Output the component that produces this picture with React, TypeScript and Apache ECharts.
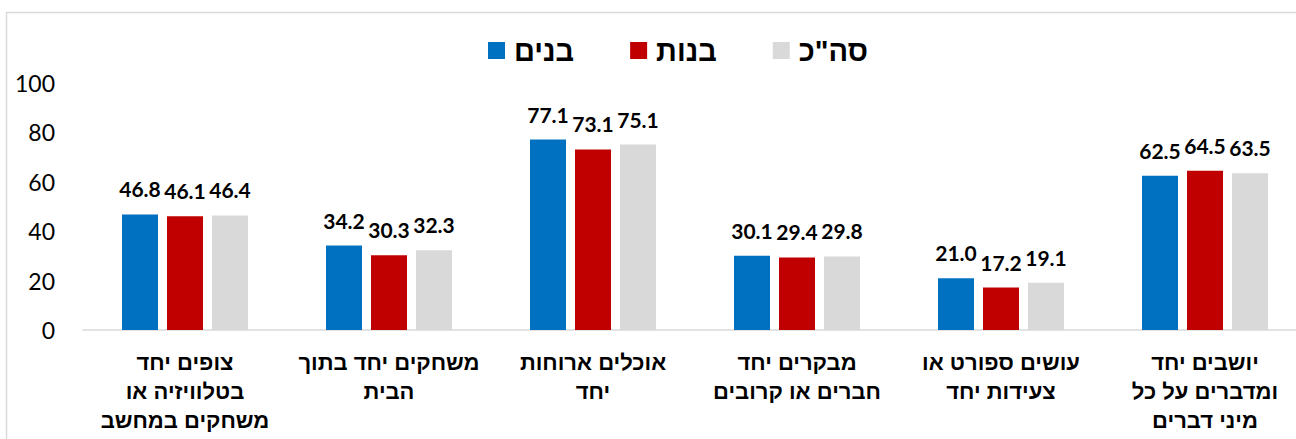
import React, { useEffect, useRef } from "react";
import * as echarts from "echarts";

const categories = [
  "צופים יחד\nבטלוויזיה או\nמשחקים במחשב",
  "משחקים יחד בתוך\nהבית",
  "אוכלים ארוחות\nיחד",
  "מבקרים יחד\nחברים או קרובים",
  "עושים ספורט או\nצעידות יחד",
  "יושבים יחד\nומדברים על כל\nמיני דברים",
];
const boys = [46.8, 34.2, 77.1, 30.1, 21.0, 62.5];
const girls = [46.1, 30.3, 73.1, 29.4, 17.2, 64.5];
const total = [46.4, 32.3, 75.1, 29.8, 19.1, 63.5];
const seriesNames = ["בנים", "בנות", 'סה"כ'];
const colors = ["#0070C0", "#C00000", "#D9D9D9"];

export default function App() {
  const ref = useRef<HTMLDivElement>(null);
  useEffect(() => {
    const chart = echarts.init(ref.current!, undefined, { renderer: "svg" });
    const data = [boys, girls, total];
    chart.setOption({
      animation: false,
      color: colors,
      graphic: [
        {
          type: "rect",
          shape: { x: 6.5, y: 12.5, width: 1320, height: 460 },
          style: { fill: "none", stroke: "#D9D9D9", lineWidth: 1.5 },
          silent: true,
        },
      ],
      legend: {
        left: 483,
        top: 31,
        itemWidth: 17,
        itemHeight: 17,
        itemGap: 56,
        icon: "rect",
        textStyle: {
          fontFamily: "Liberation Sans, Arial",
          fontWeight: "bold",
          fontSize: 29,
          color: "#000",
          padding: [0, 0, 0, 4],
        },
        data: seriesNames,
      },
      grid: {
        left: 83,
        width: 1224,
        top: 83,
        bottom: 109,
        containLabel: false,
        outerBoundsMode: "none",
      },
      xAxis: {
        type: "category",
        data: categories,
        axisLine: { lineStyle: { color: "#D9D9D9", width: 1.5 } },
        axisTick: { show: false },
        axisLabel: {
          interval: 0,
          margin: 18,
          fontFamily: "Liberation Sans, Arial",
          fontWeight: "bold",
          fontSize: 22,
          lineHeight: 29,
          color: "#000",
        },
      },
      yAxis: {
        type: "value",
        min: 0,
        max: 100,
        interval: 20,
        splitLine: { show: false },
        axisLine: { show: false },
        axisTick: { show: false },
        axisLabel: {
          margin: 28,
          fontFamily: "Lato, Open Sans",
          fontSize: 23,
          color: "#000",
        },
      },
      series: seriesNames.map((name, i) => ({
        name,
        type: "bar",
        data: data[i],
        barWidth: 36,
        barGap: "25%",
        itemStyle: { color: colors[i] },
        label: {
          show: true,
          position: "top",
          distance: 15,
          formatter: (p: any) => Number(p.value).toFixed(1),
          fontFamily: "Lato, Open Sans",
          fontWeight: "bold",
          fontSize: 21,
          color: "#000",
        },
      })),
    });
    return () => chart.dispose();
  }, []);
  return (
    <div
      ref={ref}
      style={{ position: "fixed", left: 0, top: 0, width: 1296, height: 439, background: "#fff" }}
    />
  );
}
